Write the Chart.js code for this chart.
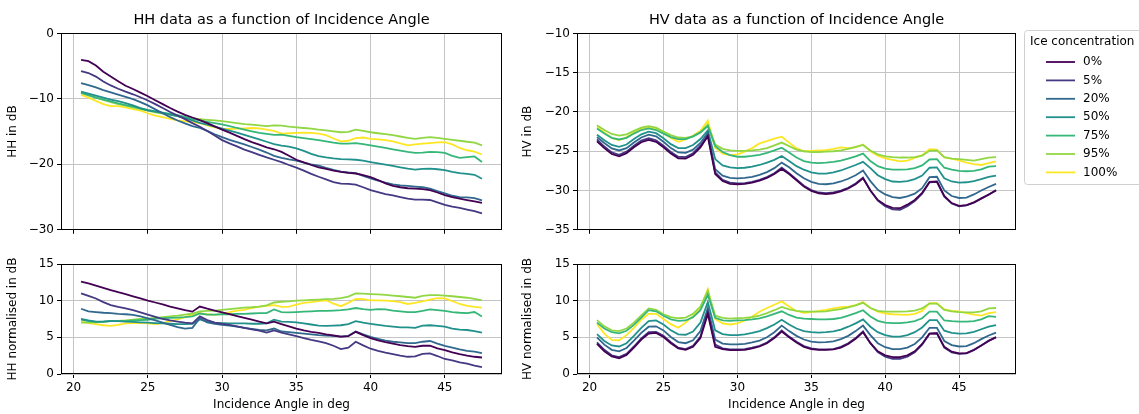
<!DOCTYPE html>
<html>
<head>
<meta charset="utf-8">
<script src="https://cdn.jsdelivr.net/npm/chart.js@4.4.1/dist/chart.umd.min.js"></script>
<style>
  body { margin: 0; background: #fff; width: 1139px; height: 414px; overflow: hidden; position: relative; }
  .panel { position: absolute; }
</style>
</head>
<body>
<div class="panel" style="left:0;top:0"><canvas id="hhChart" width="520" height="240"></canvas></div>
<div class="panel" style="left:515px;top:0"><canvas id="hvChart" width="624" height="240"></canvas></div>
<div class="panel" style="left:0;top:248px"><canvas id="hhnChart" width="520" height="166"></canvas></div>
<div class="panel" style="left:515px;top:248px"><canvas id="hvnChart" width="624" height="166"></canvas></div>
<script>
// incidence angles (deg), shared by every series
const angles = [20.5,21,21.5,22,22.5,23,23.5,24,24.5,25, 25.5,26,26.5,27,27.5,28,28.5,29,29.5,30,
  30.5,31,31.5,32,32.5,33,33.5,34,34.5,35, 35.5,36,36.5,37,37.5,38,38.5,39,39.5,40,
  40.5,41,41.5,42,42.5,43,43.5,44,44.5,45, 45.5,46,46.5,47,47.5];
const concentrations = ['0%', '5%', '20%', '50%', '75%', '95%', '100%'];
const colors = ['#440154', '#443983', '#31688e', '#21918c', '#35b779', '#90d743', '#fde725'];

const xTicks = [20, 25, 30, 35, 40, 45];
const hhTicks = [-30, -20, -10, 0];
const hvTicks = [-35, -30, -25, -20, -15, -10];
const normTicks = [0, 5, 10, 15];

// HH in dB
const hh0 = [-4.05,-4.25,-4.9,-5.85,-6.6,-7.3,-8.0,-8.5,-9.05,-9.6, -10.2,-10.8,-11.4,-11.95,-12.45,-12.85,-13.25,-13.7,-14.2,-14.7,
  -15.15,-15.65,-16.15,-16.6,-17.0,-17.4,-17.7,-18.1,-18.7,-19.3, -19.7,-20.1,-20.45,-20.7,-20.95,-21.15,-21.3,-21.4,-21.65,-21.95,
  -22.4,-22.9,-23.3,-23.5,-23.65,-23.7,-23.8,-23.95,-24.3,-24.7, -25.0,-25.25,-25.45,-25.65,-25.9];
const hh5 = [-5.75,-6.05,-6.6,-7.35,-7.95,-8.45,-8.9,-9.3,-9.75,-10.25, -10.8,-11.4,-12.0,-12.55,-13.1,-13.7,-14.25,-14.9,-15.6,-16.3,
  -16.8,-17.25,-17.75,-18.15,-18.55,-18.95,-19.3,-19.65,-20.1,-20.5, -20.95,-21.45,-21.9,-22.3,-22.7,-22.95,-23.0,-23.1,-23.5,-23.95,
  -24.25,-24.55,-24.75,-25.0,-25.25,-25.4,-25.4,-25.45,-25.8,-26.2, -26.45,-26.65,-26.9,-27.15,-27.5];
const hh20 = [-7.6,-7.9,-8.25,-8.65,-9.0,-9.35,-9.7,-10.05,-10.5,-11.0, -11.6,-12.2,-12.8,-13.3,-13.75,-14.15,-14.45,-14.9,-15.4,-15.85,
  -16.25,-16.6,-16.95,-17.35,-17.75,-18.2,-18.7,-19.0,-19.25,-19.45, -19.75,-20.0,-20.2,-20.55,-20.85,-21.1,-21.25,-21.35,-21.75,-22.15,
  -22.5,-22.8,-23.05,-23.2,-23.3,-23.4,-23.5,-23.7,-24.1,-24.45, -24.8,-25.0,-25.05,-25.15,-25.5];
const hh50 = [-8.9,-9.2,-9.5,-9.8,-10.1,-10.35,-10.65,-11.0,-11.4,-11.75, -11.95,-12.15,-12.4,-12.65,-12.95,-13.3,-13.65,-13.95,-14.25,-14.55,
  -14.85,-15.15,-15.5,-15.85,-16.2,-16.55,-16.9,-17.15,-17.3,-17.55, -17.95,-18.4,-18.75,-18.95,-19.1,-19.2,-19.25,-19.3,-19.45,-19.65,
  -19.85,-20.05,-20.25,-20.45,-20.65,-20.8,-20.7,-20.65,-20.75,-20.9, -21.15,-21.35,-21.45,-21.6,-22.2];
const hh75 = [-9.1,-9.45,-9.8,-10.1,-10.4,-10.7,-10.95,-11.2,-11.45,-11.7, -11.9,-12.1,-12.3,-12.5,-12.75,-13.05,-13.3,-13.5,-13.7,-13.9,
  -14.15,-14.45,-14.7,-14.95,-15.2,-15.35,-15.5,-15.45,-15.65,-15.85, -16.0,-16.15,-16.3,-16.5,-16.7,-16.85,-16.85,-16.75,-16.9,-17.1,
  -17.3,-17.5,-17.7,-17.9,-18.1,-18.25,-18.2,-18.1,-18.15,-18.25, -18.7,-19.0,-18.9,-18.8,-19.65];
const hh95 = [-9.0,-9.4,-9.8,-10.15,-10.5,-10.8,-11.05,-11.3,-11.55,-11.8, -12.05,-12.25,-12.45,-12.65,-12.85,-13.0,-13.1,-13.2,-13.3,-13.4,
  -13.55,-13.7,-13.85,-13.95,-14.05,-14.15,-14.05,-14.1,-14.25,-14.35, -14.45,-14.55,-14.7,-14.8,-14.95,-15.1,-15.05,-14.7,-14.9,-15.1,
  -15.25,-15.4,-15.55,-15.75,-15.95,-16.1,-15.95,-15.85,-15.95,-16.1, -16.25,-16.4,-16.55,-16.7,-17.1];
const hh100 = [-9.35,-9.8,-10.3,-10.8,-11.1,-11.1,-11.3,-11.55,-11.8,-12.2, -12.55,-12.8,-13.05,-13.3,-13.45,-13.5,-13.7,-14.05,-14.35,-14.55,
  -14.6,-14.55,-14.5,-14.45,-14.5,-14.7,-14.9,-15.3,-15.25,-15.2, -15.15,-15.2,-15.3,-15.55,-16.05,-16.5,-16.4,-16.0,-15.9,-16.1,
  -16.2,-16.3,-16.5,-16.8,-17.1,-16.95,-16.85,-16.75,-16.65,-16.6, -16.95,-17.5,-17.85,-18.05,-18.5];

// HV in dB
const hv0 = [-23.75,-24.6,-25.35,-25.65,-25.25,-24.5,-23.85,-23.55,-23.8,-24.5, -25.3,-25.9,-25.95,-25.45,-24.5,-23.1,-27.9,-28.8,-29.15,-29.2,
  -29.15,-29.0,-28.75,-28.4,-27.9,-27.25,-27.9,-28.7,-29.5,-30.05, -30.35,-30.45,-30.35,-30.1,-29.75,-29.2,-28.45,-30.0,-31.2,-31.85,
  -32.2,-32.25,-31.8,-31.2,-30.3,-28.9,-28.85,-30.7,-31.6,-31.95, -31.85,-31.5,-31.0,-30.5,-30.0];
const hv5 = [-23.5,-24.4,-25.15,-25.45,-25.05,-24.3,-23.65,-23.35,-23.6,-24.3, -25.1,-25.7,-25.75,-25.25,-24.3,-22.95,-27.7,-28.65,-29.0,-29.1,
  -29.05,-28.9,-28.65,-28.3,-27.8,-27.1,-27.8,-28.6,-29.4,-29.95, -30.25,-30.35,-30.25,-30.0,-29.65,-29.1,-28.35,-30.0,-31.3,-32.0,
  -32.4,-32.45,-32.0,-31.35,-30.4,-28.95,-28.9,-30.8,-31.65,-32.0, -31.9,-31.55,-31.05,-30.55,-29.95];
const hv20 = [-23.2,-23.95,-24.65,-24.9,-24.6,-23.9,-23.25,-22.9,-23.1,-23.8, -24.6,-25.15,-25.2,-24.8,-23.95,-22.65,-27.3,-28.1,-28.4,-28.45,
  -28.4,-28.25,-28.0,-27.65,-27.15,-26.45,-27.05,-27.8,-28.45,-28.9, -29.15,-29.2,-29.1,-28.85,-28.5,-28.05,-27.45,-28.8,-29.9,-30.5,
  -30.85,-30.95,-30.75,-30.4,-29.7,-28.3,-28.25,-30.0,-30.7,-30.95, -30.9,-30.5,-30.0,-29.55,-29.15];
const hv50 = [-22.9,-23.6,-24.2,-24.45,-24.15,-23.45,-22.85,-22.5,-22.7,-23.35, -24.1,-24.6,-24.6,-24.2,-23.45,-22.35,-26.0,-26.8,-27.05,-27.15,
  -27.1,-26.95,-26.75,-26.45,-26.1,-25.6,-26.25,-26.9,-27.35,-27.7, -27.85,-27.85,-27.7,-27.45,-27.1,-26.75,-26.35,-27.15,-28.05,-28.55,
  -28.85,-28.9,-28.8,-28.55,-28.1,-27.1,-27.05,-28.45,-28.85,-29.0, -28.95,-28.8,-28.55,-28.25,-28.1];
const hv75 = [-22.1,-22.75,-23.3,-23.5,-23.3,-22.75,-22.3,-22.1,-22.3,-22.75, -23.2,-23.45,-23.45,-23.1,-22.6,-21.8,-24.35,-25.1,-25.5,-25.7,
  -25.7,-25.6,-25.45,-25.2,-24.9,-24.55,-25.15,-25.8,-26.25,-26.45, -26.5,-26.45,-26.35,-26.2,-25.95,-25.65,-25.3,-26.25,-26.9,-27.2,
  -27.35,-27.35,-27.3,-27.15,-26.8,-26.05,-26.0,-27.1,-27.35,-27.5, -27.55,-27.5,-27.3,-26.95,-26.9];
const hv95 = [-21.7,-22.3,-22.8,-23.0,-22.85,-22.4,-22.0,-21.8,-22.0,-22.5, -22.95,-23.25,-23.3,-23.1,-22.6,-21.6,-24.15,-24.7,-24.9,-24.95,
  -24.95,-24.9,-24.8,-24.6,-24.25,-23.9,-24.35,-24.8,-25.0,-25.1, -25.1,-25.05,-25.0,-24.9,-24.7,-24.45,-24.2,-24.9,-25.4,-25.65,
  -25.75,-25.8,-25.8,-25.75,-25.55,-24.95,-24.9,-25.75,-25.95,-26.0, -26.1,-26.2,-26.0,-25.8,-25.75];
const hv100 = [-21.9,-22.6,-23.3,-23.6,-23.2,-22.6,-22.1,-21.95,-22.2,-22.7, -23.3,-23.8,-23.5,-23.0,-22.4,-21.1,-24.55,-25.3,-25.5,-25.4,
  -25.05,-24.6,-24.0,-23.7,-23.4,-23.15,-23.9,-24.6,-25.0,-24.95, -24.9,-24.85,-24.7,-24.5,-24.6,-24.5,-24.15,-25.0,-25.55,-25.9,
  -26.1,-26.3,-26.2,-25.85,-25.5,-24.75,-24.8,-25.8,-25.95,-26.15, -26.45,-26.65,-26.75,-26.5,-26.3];

// HH normalised in dB
const hhn0 = [12.6,12.35,12.05,11.75,11.45,11.15,10.9,10.6,10.3,10.0, 9.75,9.5,9.2,8.95,8.7,8.5,9.2,8.9,8.65,8.4,
  8.15,7.9,7.65,7.4,7.15,6.9,7.15,6.8,6.5,6.2, 5.95,5.75,5.6,5.4,5.25,5.1,5.15,5.75,5.3,4.9,
  4.6,4.35,4.15,3.95,3.8,3.7,3.85,3.85,3.5,3.25, 2.95,2.7,2.5,2.35,2.25];
const hhn5 = [11.0,10.65,10.3,9.8,9.4,9.15,8.95,8.7,8.4,8.1, 7.8,7.5,7.3,7.15,7.0,6.9,7.85,7.35,7.0,6.85,
  6.7,6.5,6.3,6.1,5.9,5.65,5.95,5.65,5.4,5.15, 4.9,4.65,4.45,4.2,3.85,3.4,3.6,4.4,3.9,3.45,
  3.15,2.9,2.7,2.5,2.35,2.4,2.75,2.8,2.45,2.05, 1.85,1.6,1.4,1.15,0.95];
const hhn20 = [8.9,8.55,8.45,8.35,8.3,8.2,8.15,8.05,7.85,7.6, 7.3,7.0,6.7,6.4,6.2,6.3,7.6,7.05,6.85,6.7,
  6.6,6.45,6.3,6.15,6.0,5.95,6.2,5.8,5.7,5.6, 5.5,5.4,5.3,5.25,5.2,5.1,5.2,5.8,5.4,5.05,
  4.8,4.55,4.4,4.3,4.2,4.2,4.4,4.5,4.15,3.85, 3.6,3.35,3.15,3.05,2.85];
const hhn50 = [7.5,7.3,7.15,7.15,7.2,7.2,7.15,7.1,7.05,7.0, 6.95,6.9,6.85,6.8,6.8,6.85,7.45,7.1,7.0,6.95,
  6.9,6.9,6.9,6.85,6.85,6.9,7.4,7.15,7.1,7.05, 6.9,6.75,6.6,6.55,6.6,6.65,6.8,7.2,7.0,6.85,
  6.7,6.55,6.45,6.35,6.35,6.3,6.6,6.65,6.55,6.45, 6.2,6.05,6.0,5.85,5.65];
const hhn75 = [7.4,7.2,7.1,7.15,7.25,7.2,7.2,7.3,7.35,7.4, 7.55,7.6,7.65,7.7,7.75,7.85,8.25,8.1,8.1,8.15,
  8.15,8.2,8.2,8.25,8.3,8.3,8.8,8.45,8.4,8.45, 8.5,8.55,8.6,8.6,8.65,8.7,8.8,9.0,8.85,8.75,
  8.85,8.8,8.65,8.55,8.45,8.45,8.6,8.8,8.7,8.6, 8.45,8.35,8.3,8.45,7.85];
const hhn95 = [7.0,7.0,7.05,7.1,7.2,7.25,7.3,7.4,7.5,7.55, 7.65,7.75,7.85,7.95,8.1,8.25,8.55,8.6,8.65,8.75,
  8.85,8.95,9.05,9.1,9.2,9.35,9.75,9.85,9.9,10.0, 10.05,10.1,10.15,10.2,10.25,10.35,10.55,11.0,10.95,10.9,
  10.85,10.8,10.7,10.6,10.5,10.4,10.65,10.75,10.75,10.7, 10.6,10.5,10.4,10.25,10.05];
const hhn100 = [7.15,6.95,6.8,6.65,6.55,6.7,6.9,6.95,6.95,6.9, 6.8,6.95,7.2,7.45,7.75,8.05,8.3,8.15,8.05,8.2,
  8.45,8.65,8.75,9.0,9.2,9.3,9.4,9.15,9.2,9.45, 9.7,9.8,9.95,10.05,9.6,9.25,9.7,10.25,10.2,10.05,
  10.05,10.0,9.95,9.8,9.55,9.7,9.9,10.15,10.35,10.3, 9.95,9.55,9.3,9.15,9.05];

// HV normalised in dB
const hvn0 = [4.1,3.1,2.4,2.15,2.6,3.6,4.7,5.5,5.6,5.05, 4.2,3.5,3.3,3.7,4.9,8.2,3.7,3.4,3.25,3.25,
  3.3,3.5,3.75,4.2,4.9,5.8,5.0,4.3,3.7,3.4, 3.3,3.3,3.35,3.6,4.1,4.8,5.7,4.2,3.1,2.55,
  2.3,2.3,2.55,3.1,4.1,5.5,5.55,3.7,3.05,2.8, 2.85,3.3,3.9,4.5,5.0];
const hvn5 = [4.3,3.3,2.55,2.3,2.75,3.75,4.85,5.7,5.75,5.2, 4.35,3.6,3.4,3.85,5.1,8.5,4.0,3.5,3.35,3.35,
  3.4,3.6,3.85,4.3,5.0,5.95,5.1,4.4,3.8,3.5, 3.35,3.35,3.4,3.7,4.2,4.9,5.8,4.2,3.0,2.35,
  2.05,2.05,2.35,2.95,4.0,5.5,5.55,3.6,2.95,2.75, 2.8,3.25,3.9,4.55,5.05];
const hvn20 = [5.0,4.0,3.3,3.1,3.55,4.55,5.6,6.45,6.5,5.95, 5.05,4.35,4.2,4.6,5.85,9.0,4.7,4.15,4.05,4.05,
  4.1,4.3,4.55,5.0,5.7,6.6,5.85,5.2,4.7,4.4, 4.3,4.35,4.45,4.75,5.2,5.85,6.6,5.3,4.2,3.65,
  3.4,3.4,3.6,4.1,5.0,6.3,6.3,4.5,3.95,3.75, 3.8,4.2,4.75,5.25,5.65];
const hvn50 = [5.45,4.5,3.9,3.75,4.2,5.2,6.3,7.2,7.3,6.75, 5.95,5.4,5.35,5.8,7.0,9.8,5.95,5.45,5.3,5.3,
  5.4,5.6,5.85,6.25,6.75,7.4,6.75,6.2,5.85,5.7, 5.65,5.7,5.8,6.05,6.45,6.9,7.45,6.45,5.7,5.3,
  5.1,5.1,5.3,5.7,6.35,7.35,7.35,5.9,5.6,5.5, 5.55,5.75,6.1,6.45,6.65];
const hvn75 = [7.0,6.2,5.7,5.55,5.9,6.7,7.7,8.7,8.55,7.95, 7.45,7.25,7.3,7.75,8.7,10.8,7.65,7.3,7.25,7.3,
  7.35,7.45,7.6,7.85,8.2,8.55,8.05,7.7,7.55,7.5, 7.45,7.45,7.5,7.65,7.95,8.3,8.7,7.85,7.25,7.0,
  6.95,6.95,7.05,7.2,7.6,8.5,8.5,7.3,7.2,7.15, 7.15,7.2,7.45,7.9,7.8];
const hvn95 = [7.35,6.5,5.95,5.85,6.2,7.0,8.0,8.95,8.75,8.15, 7.75,7.6,7.7,8.2,9.2,11.35,7.95,7.65,7.55,7.6,
  7.65,7.75,7.95,8.3,8.7,9.15,8.8,8.6,8.5,8.5, 8.5,8.55,8.7,8.85,9.1,9.35,9.7,9.0,8.6,8.5,
  8.5,8.5,8.55,8.65,8.95,9.6,9.6,8.75,8.55,8.45, 8.4,8.4,8.55,8.95,9.0];
const hvn100 = [6.8,5.5,4.65,4.6,5.3,6.3,7.4,8.2,8.2,7.5, 6.8,6.3,7.0,7.9,9.0,11.55,7.5,6.9,6.75,6.9,
  7.3,7.85,8.5,9.0,9.45,9.9,9.2,8.6,8.35,8.45, 8.6,8.75,8.95,9.1,9.2,9.4,9.8,9.0,8.5,8.25,
  8.15,8.1,8.05,8.2,8.6,9.65,9.65,8.8,8.6,8.55, 8.3,8.1,7.95,8.3,8.45];

const FONT = 'DejaVu Sans';
Chart.defaults.font.family = FONT;
Chart.defaults.font.size = 12;
Chart.defaults.color = '#000';

// black box round every axes, like matplotlib spines
const spines = {
  id: 'spines',
  afterDatasetsDraw(chart) {
    const {ctx, chartArea: a} = chart;
    const l = Math.round(a.left) + 0.5, t = Math.round(a.top) + 0.5;
    const r = Math.round(a.right) - 0.5, b = Math.round(a.bottom) - 0.5;
    ctx.save();
    ctx.strokeStyle = '#000';
    ctx.lineWidth = 1;
    ctx.strokeRect(l, t, r - l, b - t);
    ctx.restore();
  }
};
Chart.register(spines);

// matplotlib style legend box, built from the chart datasets
const iceLegend = {
  id: 'iceLegend',
  afterDraw(chart, args, opts) {
    if (!opts || !opts.title) return;
    const ctx = chart.ctx;
    const x0 = opts.x, y0 = opts.y;
    ctx.save();
    ctx.beginPath();
    ctx.roundRect(x0 + 0.5, y0 + 0.5, 200, opts.h, 3);
    ctx.fillStyle = 'rgba(255,255,255,0.8)';
    ctx.fill();
    ctx.strokeStyle = '#d0d0d0';
    ctx.lineWidth = 1;
    ctx.stroke();
    ctx.font = '12px ' + FONT;
    ctx.fillStyle = '#000';
    ctx.textBaseline = 'middle';
    ctx.fillText(opts.title, x0 + 6, y0 + 12);
    chart.data.datasets.forEach((ds, i) => {
      const y = y0 + 32 + i * 18.4;
      ctx.strokeStyle = ds.borderColor;
      ctx.lineWidth = ds.borderWidth;
      ctx.beginPath();
      ctx.moveTo(x0 + 22, y);
      ctx.lineTo(x0 + 51, y);
      ctx.stroke();
      ctx.fillText(ds.label, x0 + 59, y);
    });
    ctx.restore();
  }
};

const minus = v => (v < 0 ? '\u2212' + Math.abs(v) : String(v));
const gridStyle = { color: '#c4c4c4', lineWidth: 1, tickColor: '#000', tickWidth: 1, tickLength: 4 };

function makeChart(id, series, o) {
  const datasets = series.map((vals, i) => ({
    label: concentrations[i],
    data: vals.map((v, j) => ({ x: angles[j], y: v })),
    borderColor: colors[i],
    backgroundColor: colors[i],
    borderWidth: 1.8,
    pointRadius: 0,
    tension: 0
  }));
  return new Chart(document.getElementById(id), {
    type: 'line',
    data: { datasets },
    plugins: o.legend ? [iceLegend] : [],
    options: {
      responsive: false,
      animation: false,
      events: [],
      layout: { padding: { top: o.padTop, right: o.padRight, left: 0, bottom: 0 } },
      plugins: {
        legend: { display: false },
        tooltip: { enabled: false },
        title: {
          display: !!o.title,
          text: o.title,
          fullSize: false,
          color: '#000',
          font: { size: 14.5, weight: 'normal' },
          padding: { top: 12, bottom: 4 }
        },
        iceLegend: o.legend
      },
      scales: {
        x: {
          type: 'linear',
          min: 19.15,
          max: 48.85,
          afterBuildTicks: s => { s.ticks = xTicks.map(v => ({ value: v })); },
          afterFit: s => { s.height = o.xHeight; },
          grid: gridStyle,
          border: { display: false },
          ticks: { display: o.xLabels, padding: 3, maxRotation: 0 },
          title: { display: o.xLabels, text: 'Incidence Angle in deg', padding: { top: 2, bottom: 2 } }
        },
        y: {
          min: o.yTicks[0],
          max: o.yTicks[o.yTicks.length - 1],
          afterBuildTicks: s => { s.ticks = o.yTicks.map(v => ({ value: v })); },
          afterFit: s => { s.width = o.yWidth; },
          grid: gridStyle,
          border: { display: false },
          ticks: { padding: 3, callback: v => minus(v) },
          title: { display: true, text: o.yTitle, padding: { top: 6, bottom: 0 } }
        }
      }
    }
  });
}

makeChart('hhChart', [hh0, hh5, hh20, hh50, hh75, hh95, hh100], {
  title: 'HH data as a function of Incidence Angle', yTitle: 'HH in dB', yTicks: hhTicks,
  padTop: 0, padRight: 18, yWidth: 61, xHeight: 10, xLabels: false
});
makeChart('hvChart', [hv0, hv5, hv20, hv50, hv75, hv95, hv100], {
  title: 'HV data as a function of Incidence Angle', yTitle: 'HV in dB', yTicks: hvTicks,
  padTop: 0, padRight: 123, yWidth: 62, xHeight: 10, xLabels: false,
  legend: { title: 'Ice concentration', x: 509, y: 30, h: 154 }
});
makeChart('hhnChart', [hhn0, hhn5, hhn20, hhn50, hhn75, hhn95, hhn100], {
  yTitle: 'HH normalised in dB', yTicks: normTicks,
  padTop: 16, padRight: 18, yWidth: 61, xHeight: 40, xLabels: true
});
makeChart('hvnChart', [hvn0, hvn5, hvn20, hvn50, hvn75, hvn95, hvn100], {
  yTitle: 'HV normalised in dB', yTicks: normTicks,
  padTop: 16, padRight: 123, yWidth: 62, xHeight: 40, xLabels: true
});
</script>
</body>
</html>
